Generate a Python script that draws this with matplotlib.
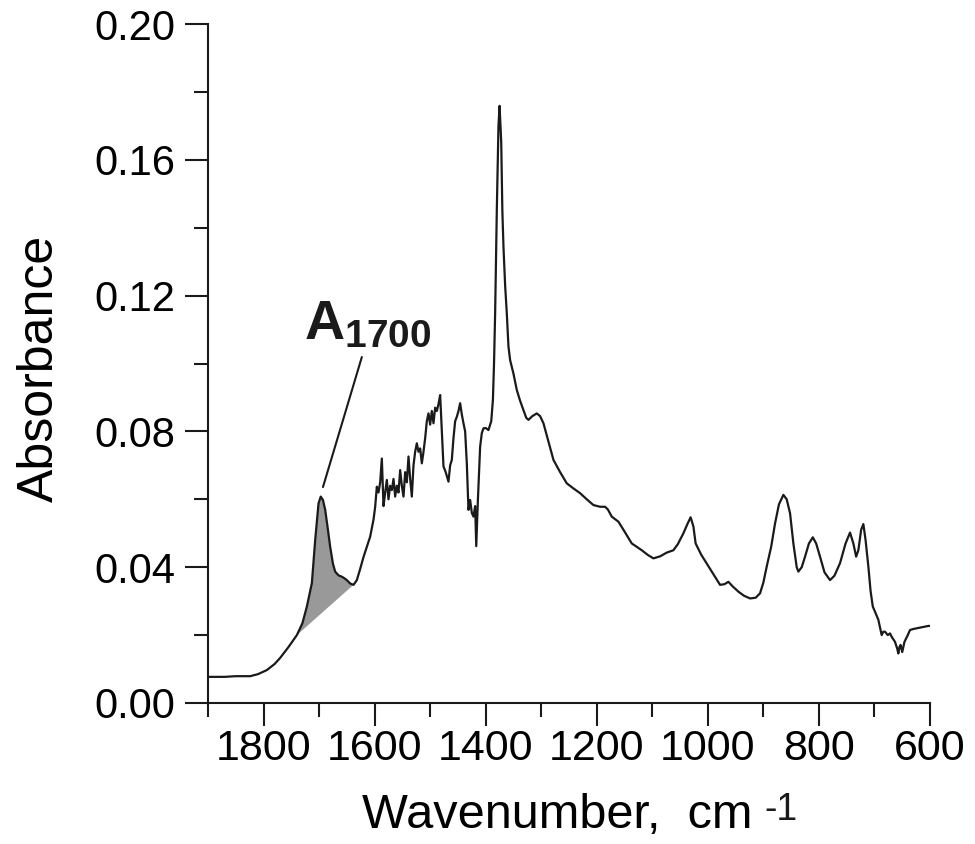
import matplotlib
matplotlib.use("Agg")
import matplotlib.pyplot as plt
from matplotlib.ticker import MultipleLocator, FormatStrFormatter
import numpy as np

plt.rcParams["font.family"] = ["Liberation Sans", "DejaVu Sans"]
plt.rcParams["mathtext.fontset"] = "custom"
plt.rcParams["mathtext.rm"] = "Liberation Sans"
plt.rcParams["mathtext.bf"] = "Liberation Sans:bold"
plt.rcParams["mathtext.it"] = "Liberation Sans:italic"

# spectrum (wavenumber cm-1, absorbance)
wavenumber = [
    1900, 1870, 1850, 1824, 1810, 1794, 1780, 1770, 1755, 1740, 1730, 1722,
    1713, 1707, 1701, 1697, 1693, 1689, 1684, 1680, 1675, 1671, 1665, 1659,
    1655, 1650, 1644, 1638, 1632, 1626, 1620, 1614, 1608, 1602, 1599, 1596,
    1593, 1590, 1587, 1584, 1581, 1578, 1575, 1572, 1569, 1566, 1563, 1560,
    1557, 1554, 1551, 1548, 1545, 1542, 1539, 1536, 1533, 1530, 1527, 1524,
    1521, 1518, 1515, 1512, 1509, 1506, 1503, 1500, 1497, 1494, 1491, 1488,
    1485, 1482, 1479, 1476, 1472, 1467, 1464, 1461, 1458, 1455, 1452, 1449,
    1446, 1443, 1440, 1437, 1434, 1431, 1428, 1425, 1422, 1419, 1417, 1414,
    1410, 1407, 1404, 1400, 1395, 1390, 1387, 1385, 1383, 1380, 1377, 1375,
    1372, 1370, 1368, 1365, 1362, 1359, 1356, 1350, 1344, 1338, 1332, 1327,
    1323, 1316, 1308, 1302, 1296, 1287, 1278, 1266, 1254, 1242, 1230, 1218,
    1206, 1194, 1185, 1180, 1173, 1161, 1150, 1137, 1128, 1119, 1108, 1098,
    1086, 1074, 1062, 1054, 1044, 1036, 1031, 1026, 1022, 1012, 1002, 990,
    978, 970, 963, 955, 945, 935, 924, 914, 906, 900, 894, 886,
    879, 872, 864, 858, 852, 846, 840, 837, 831, 825, 818, 811,
    805, 798, 790, 780, 772, 762, 752, 744, 738, 733, 729, 724,
    720, 716, 711, 707, 703, 698, 693, 687, 684, 681, 676, 672,
    669, 663, 659, 657, 655, 653, 650, 646, 640, 636, 630, 624,
    614, 603, 600,
]
absorbance = [
    0.0077, 0.0077, 0.0079, 0.0079, 0.0085, 0.0097, 0.0115, 0.0133, 0.0165, 0.0200, 0.0235, 0.0284,
    0.0353, 0.0480, 0.0588, 0.0608, 0.0598, 0.0569, 0.0510, 0.0460, 0.0410, 0.0387, 0.0376, 0.0372,
    0.0368, 0.0362, 0.0352, 0.0348, 0.0362, 0.0395, 0.0430, 0.0460, 0.0490, 0.0540, 0.0578, 0.0637,
    0.0620, 0.0650, 0.0720, 0.0580, 0.0620, 0.0657, 0.0600, 0.0640, 0.0627, 0.0660, 0.0608, 0.0640,
    0.0620, 0.0686, 0.0640, 0.0608, 0.0680, 0.0650, 0.0726, 0.0660, 0.0608, 0.0700, 0.0740, 0.0765,
    0.0740, 0.0750, 0.0706, 0.0740, 0.0780, 0.0830, 0.0853, 0.0820, 0.0860, 0.0824, 0.0870, 0.0860,
    0.0880, 0.0907, 0.0800, 0.0697, 0.0680, 0.0652, 0.0700, 0.0716, 0.0780, 0.0830, 0.0843, 0.0860,
    0.0883, 0.0850, 0.0824, 0.0800, 0.0706, 0.0569, 0.0598, 0.0560, 0.0549, 0.0580, 0.0462, 0.0600,
    0.0755, 0.0795, 0.0809, 0.0810, 0.0804, 0.0830, 0.0893, 0.1000, 0.1148, 0.1450, 0.1700, 0.1759,
    0.1650, 0.1450, 0.1344, 0.1230, 0.1148, 0.1050, 0.1010, 0.0970, 0.0922, 0.0890, 0.0863, 0.0840,
    0.0834, 0.0845, 0.0853, 0.0845, 0.0824, 0.0770, 0.0716, 0.0680, 0.0647, 0.0632, 0.0618, 0.0600,
    0.0583, 0.0578, 0.0578, 0.0570, 0.0549, 0.0534, 0.0505, 0.0470, 0.0460, 0.0450, 0.0436, 0.0426,
    0.0432, 0.0443, 0.0450, 0.0468, 0.0500, 0.0530, 0.0547, 0.0520, 0.0470, 0.0437, 0.0411, 0.0380,
    0.0348, 0.0350, 0.0357, 0.0343, 0.0328, 0.0316, 0.0308, 0.0310, 0.0323, 0.0355, 0.0402, 0.0460,
    0.0529, 0.0585, 0.0613, 0.0600, 0.0559, 0.0470, 0.0400, 0.0387, 0.0400, 0.0431, 0.0470, 0.0488,
    0.0470, 0.0431, 0.0385, 0.0362, 0.0375, 0.0412, 0.0470, 0.0502, 0.0470, 0.0431, 0.0450, 0.0510,
    0.0527, 0.0480, 0.0402, 0.0330, 0.0284, 0.0265, 0.0245, 0.0200, 0.0210, 0.0210, 0.0200, 0.0205,
    0.0195, 0.0180, 0.0160, 0.0146, 0.0165, 0.0171, 0.0150, 0.0180, 0.0200, 0.0215, 0.0218, 0.0220,
    0.0223, 0.0227, 0.0227,
]

# integration limits of the shaded carbonyl band
band_start, band_end = 1740, 1638

wn = np.array(wavenumber)
ab = np.array(absorbance)

fig = plt.figure(figsize=(9.75, 8.44), dpi=100)
ax = fig.add_axes([208 / 975, 1 - 703 / 844, 722 / 975, 679 / 844])

band = (wn <= band_start) & (wn >= band_end)
ax.fill(wn[band], ab[band], color="#999999", lw=0, zorder=1)
ax.plot(wn, ab, color="#1a1a1a", lw=1.6, zorder=2)

ax.set_xlim(1900, 600)
ax.set_ylim(0, 0.2)

ax.xaxis.set_major_locator(MultipleLocator(200))
ax.xaxis.set_minor_locator(MultipleLocator(100))
ax.yaxis.set_major_locator(MultipleLocator(0.04))
ax.yaxis.set_minor_locator(MultipleLocator(0.02))
ax.yaxis.set_major_formatter(FormatStrFormatter("%.2f"))

for s in ["top", "right"]:
    ax.spines[s].set_visible(False)
for s in ["left", "bottom"]:
    ax.spines[s].set_linewidth(1.5)
    ax.spines[s].set_color("#1a1a1a")

ax.tick_params(which="both", direction="out", width=1.5, color="#1a1a1a")
ax.tick_params(which="major", length=16.5)
ax.tick_params(which="minor", length=10)
ax.tick_params(axis="x", which="major", labelsize=31, pad=2)
ax.tick_params(axis="y", which="major", labelsize=30, pad=7)

# x label with a small hyphen-style exponent, as in the original
ax.set_xlabel("Wavenumber,  cm", fontsize=35)
ax.xaxis.set_label_coords(0.7548, -0.1841)
ax.xaxis.label.set_ha("right")
ax.xaxis.label.set_va("baseline")
ax.text(0.7700, -0.1723, "-1", transform=ax.transAxes, fontsize=27,
        ha="left", va="baseline", color="#1a1a1a")

ax.set_ylabel("Absorbance", fontsize=36)
ax.yaxis.set_label_coords(-0.233, 0.493)
ax.yaxis.label.set_va("center")

ax.annotate("", xy=(1693, 0.0636), xytext=(1623, 0.1019),
            arrowprops=dict(arrowstyle="-", color="#1a1a1a", lw=1.5,
                            shrinkA=0, shrinkB=0))
ax.text(1727, 0.107, r"$\mathbf{A}_{\mathbf{1700}}$", fontsize=40,
        ha="left", va="baseline", color="#1a1a1a")

fig.savefig("out.png", dpi=100)
